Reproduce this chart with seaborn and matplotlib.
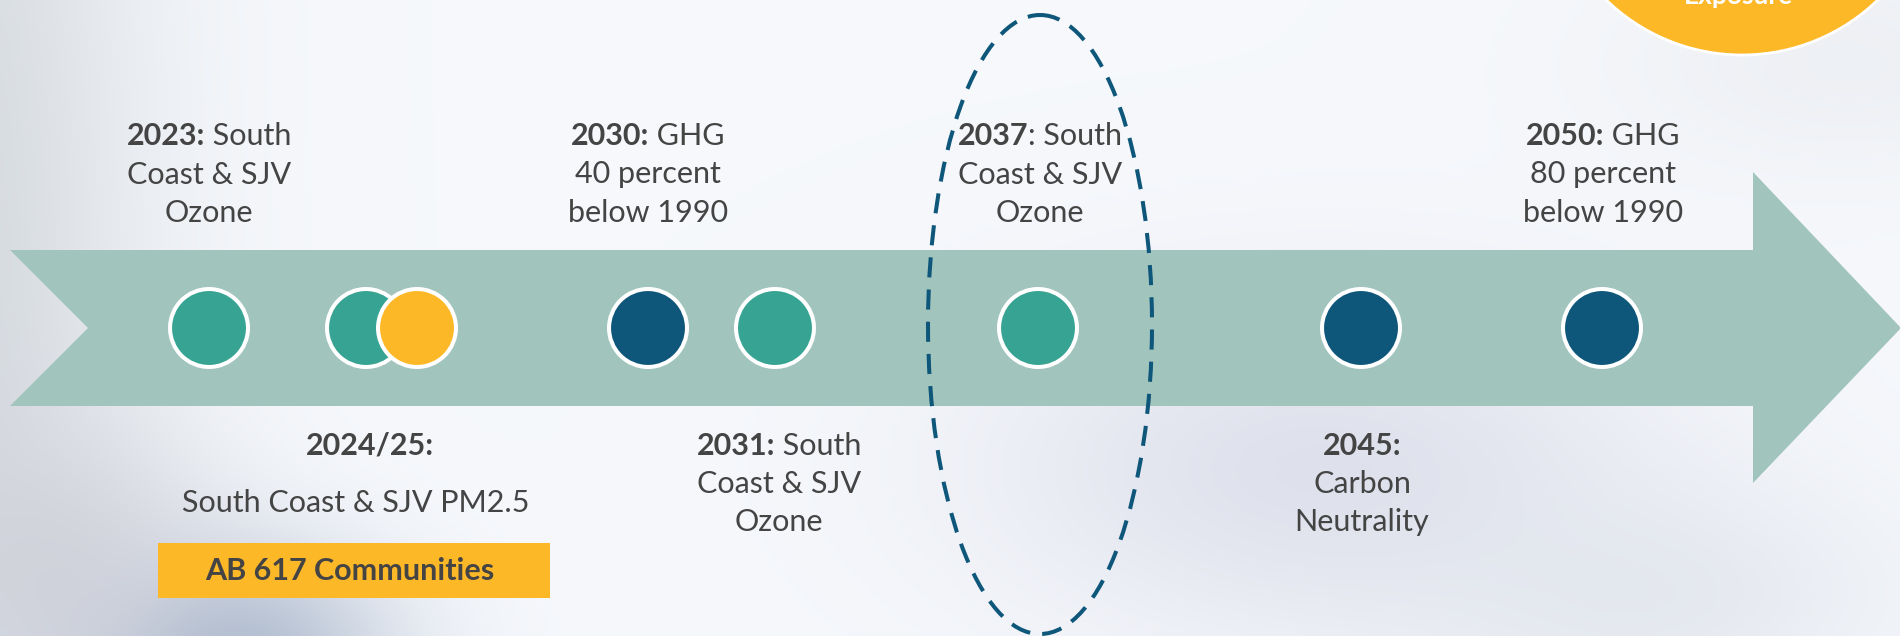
import numpy as np
import pandas as pd
import matplotlib
matplotlib.use("Agg")
import matplotlib.pyplot as plt
from matplotlib.patches import Polygon, Rectangle, Ellipse, Circle
import seaborn as sns

# Milestone data
milestones = ["2023", "2024/25", "2024/25 AB 617", "2030", "2031", "2037", "2045", "2050"]
timeline_pos = [209, 366, 417, 648, 775, 1038, 1361, 1602]
kinds = ["Ozone", "Ozone", "AB 617", "GHG", "Ozone", "Ozone", "GHG", "GHG"]

# labels above the arrow: (x, [(bold, regular), ...])
top_labels = [
    (209, [("2023:", " South"), ("", "Coast & SJV"), ("", "Ozone")]),
    (648, [("2030:", " GHG"), ("", "40 percent"), ("", "below 1990")]),
    (1040, [("2037", ": South"), ("", "Coast & SJV"), ("", "Ozone")]),
    (1603, [("2050:", " GHG"), ("", "80 percent"), ("", "below 1990")]),
]
bottom_labels = [
    (370, [("2024/25:", "")]),
    (779, [("2031:", " South"), ("", "Coast & SJV"), ("", "Ozone")]),
    (1362, [("2045:", ""), ("", "Carbon"), ("", "Neutrality")]),
]
top_baselines = [145, 183.5, 221.5]
bottom_baselines = [455, 493, 531]

palette = {"Ozone": "#37A493", "AB 617": "#FDB827", "GHG": "#0F577A"}
text_color = "#444444"

sns.set_theme(style="white")
plt.rcParams['font.family'] = ['Lato', 'DejaVu Sans']

fig = plt.figure(figsize=(19, 6.36), dpi=100)
ax = fig.add_axes([0, 0, 1, 1])
ax.set_xlim(0, 1900)
ax.set_ylim(636, 0)
ax.axis('off')

# soft photo-like background
xx, yy = np.meshgrid(np.linspace(0, 1900, 380), np.linspace(0, 636, 128))
bg = np.ones((128, 380, 3)) * np.array([0.965, 0.973, 0.988])
def blob(cx, cy, rx, ry, col, strength):
    w = strength * np.exp(-(((xx - cx) / rx) ** 2 + ((yy - cy) / ry) ** 2))
    return w[..., None], np.array(col)
for cx, cy, rx, ry, col, s in [
    (-60, 300, 200, 900, (0.82, 0.84, 0.86), 0.9),
    (230, 660, 160, 110, (0.62, 0.68, 0.77), 0.8),
    (60, 560, 150, 140, (0.80, 0.80, 0.84), 0.6),
    (1320, 470, 330, 170, (0.85, 0.86, 0.91), 0.8),
    (1650, 600, 250, 120, (0.86, 0.88, 0.91), 0.6),
    (1850, 60, 250, 120, (0.90, 0.91, 0.93), 0.5),
]:
    w, c = blob(cx, cy, rx, ry, col, s)
    bg = bg * (1 - w) + c * w
ax.imshow(bg, extent=(0, 1900, 636, 0), aspect='auto', zorder=0, interpolation='bicubic')

# arrow band
arrow = Polygon([(10, 250), (1753, 250), (1753, 172), (1901, 328), (1753, 483),
                 (1753, 406), (10, 406), (88, 328)], closed=True,
                facecolor="#A1C4BC", edgecolor="none", zorder=1)
ax.add_patch(arrow)

# orange badge at top right (cut by the top edge, as in the slide)
ax.add_patch(Circle((1742, -140), 195, facecolor="#FDB827", edgecolor="white",
                    linewidth=2, zorder=1))
ax.text(1738, 4, "Exposure", color="white", fontsize=19, fontweight="bold",
        ha="center", va="baseline", zorder=2)

# milestone circles
df = pd.DataFrame({"milestone": milestones, "pos": timeline_pos, "kind": kinds})
df["y"] = 328
sns.scatterplot(data=df, x="pos", y="y", hue="kind", palette=palette, s=3150,
                edgecolor="white", linewidth=2.9, legend=False, ax=ax, zorder=3)
ax.set_xlim(0, 1900)
ax.set_ylim(636, 0)
ax.axis('off')

# dashed ellipse around 2037
ax.add_patch(Ellipse((1040, 324.5), 224, 619, fill=False, edgecolor="#0F577A",
                     linewidth=2.9, linestyle=(0, (5.0, 3.0)), zorder=4))

# text
fig.canvas.draw()
renderer = fig.canvas.get_renderer()
inv = ax.transData.inverted()
FS = 22

def width_of(t):
    bb = t.get_window_extent(renderer)
    p0 = inv.transform((bb.x0, bb.y0))
    p1 = inv.transform((bb.x1, bb.y0))
    return p1[0] - p0[0]

def draw_line(xc, yb, bold, reg, size=FS):
    parts = []
    if bold:
        parts.append(ax.text(0, yb, bold, fontsize=size, fontweight="bold",
                             color=text_color, ha="left", va="baseline", zorder=5))
    if reg:
        parts.append(ax.text(0, yb, reg.replace(" ", "\u00a0"), fontsize=size,
                             color=text_color, ha="left", va="baseline", zorder=5))
    widths = [width_of(p) for p in parts]
    x = xc - sum(widths) / 2
    for p, w in zip(parts, widths):
        p.set_x(x)
        x += w

for xc, lines in top_labels:
    for yb, (b, r) in zip(top_baselines, lines):
        draw_line(xc, yb, b, r)
for xc, lines in bottom_labels:
    for yb, (b, r) in zip(bottom_baselines, lines):
        draw_line(xc, yb, b, r)

draw_line(356, 512, "", "South Coast & SJV PM2.5")
ax.add_patch(Rectangle((158, 543), 392, 55, facecolor="#FDB827", edgecolor="none", zorder=4))
draw_line(350, 580, "AB 617 Communities", "")

fig.savefig("out.png", dpi=100)
